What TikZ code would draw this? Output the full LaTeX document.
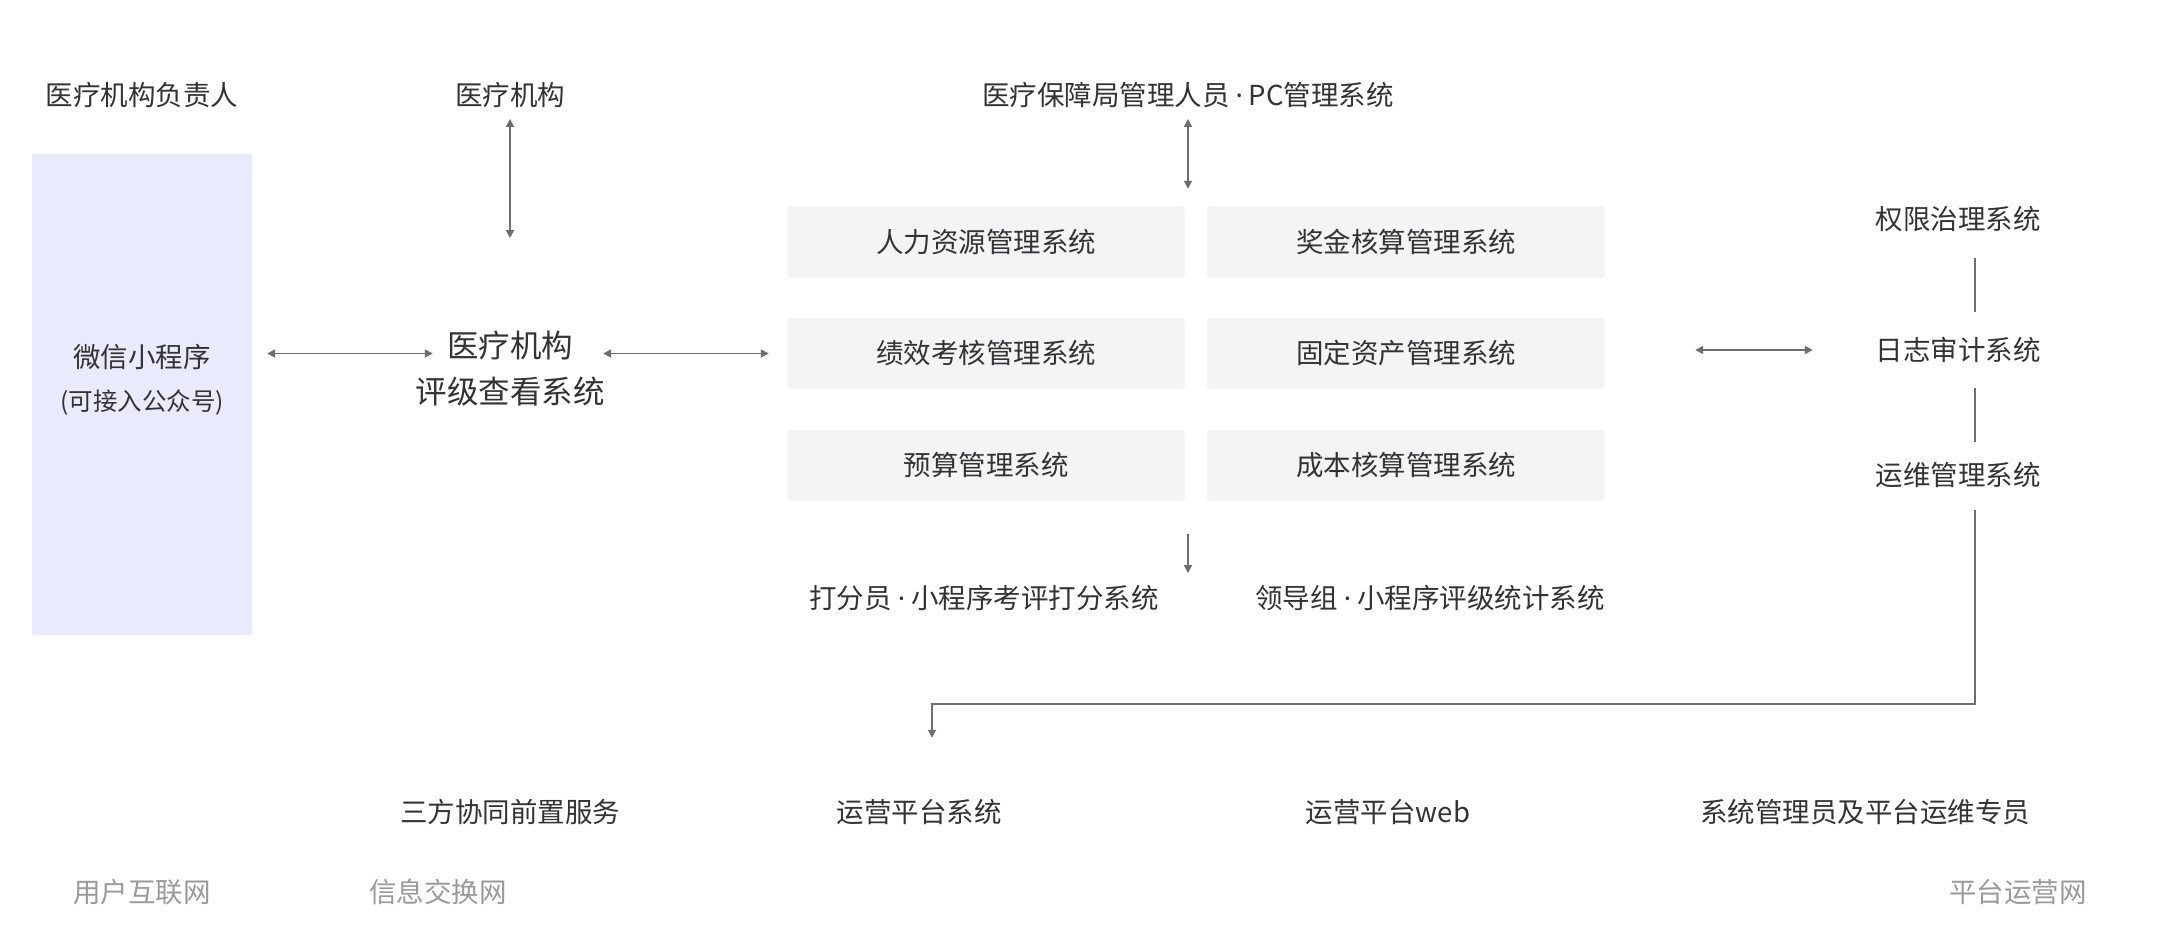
\documentclass[tikz,border=0pt]{standalone}
\usepackage{fontspec}
\setmainfont{Noto Sans CJK SC}
\newfontfamily\latinfont{Noto Sans}
\newcommand\mdot{\hspace{6pt}{\latinfont ·}\hspace{6pt}}
\usetikzlibrary{arrows.meta,calc}
\definecolor{txt}{HTML}{333333}
\definecolor{ln}{HTML}{6E6E6E}
\definecolor{bluebg}{HTML}{E9EBFD}
\definecolor{graybg}{HTML}{F4F4F6}
\definecolor{netc}{HTML}{9A9A9A}
\begin{document}
\begin{tikzpicture}[x=1pt,y=-1pt,
  lbl/.style={inner sep=0pt, text=txt, font=\fontsize{27.5}{33}\selectfont, text height=24.2pt, text depth=3.3pt},
  big/.style={inner sep=0pt, text=txt, font=\fontsize{31.5}{38}\selectfont, text height=27.7pt, text depth=3.8pt},
  small/.style={inner sep=0pt, text=txt, font=\fontsize{24.5}{29}\selectfont, text height=21.5pt, text depth=3pt},
  netlbl/.style={lbl, text=netc},
  sysbox/.style={lbl, fill=graybg, rounded corners=3pt, minimum width=398pt, minimum height=71pt},
  bluebox/.style={fill=bluebg, rounded corners=2pt, inner sep=0pt, minimum width=220pt, minimum height=481pt},
  conn/.style={draw=ln, line width=1.7pt},
  biarr/.style={conn, {Triangle[length=8pt,width=8pt]}-{Triangle[length=8pt,width=8pt]}},
  onearr/.style={conn, -{Triangle[length=8pt,width=8pt]}}
]
\fill[white] (0,0) rectangle (2160,952);
\useasboundingbox (0,0) rectangle (2160,952);

% top labels
\node[lbl] (fzr) at (142,95) {医疗机构负责人};
\node[lbl] (yl) at (510,95) {医疗机构};
\node[lbl] (yb) at (1188,95) {医疗保障局管理人员\mdot PC管理系统};

% mini program box
\node[bluebox] (wx) at (142,394.5) {};
\node[lbl] (wx1) at (142,357) {微信小程序};
\node[small] (wx2) at (142,401) {(可接入公众号)};

% rating system
\node[big] (pj1) at (510,346) {医疗机构};
\node[big] (pj2) at (510,392) {评级查看系统};

% system boxes
\node[sysbox] (b11) at (986,242) {人力资源管理系统};
\node[sysbox] (b12) at (1406,242) {奖金核算管理系统};
\node[sysbox] (b21) at (986,353.5) {绩效考核管理系统};
\node[sysbox] (b22) at (1406,353.5) {固定资产管理系统};
\node[sysbox] (b31) at (986,465.5) {预算管理系统};
\node[sysbox] (b32) at (1406,465.5) {成本核算管理系统};

\node[lbl] (df) at (984,598) {打分员\mdot 小程序考评打分系统};
\node[lbl] (ld) at (1430,598) {领导组\mdot 小程序评级统计系统};

% right column
\node[lbl] (rz1) at (1958,219) {权限治理系统};
\node[lbl] (rz2) at (1958,350) {日志审计系统};
\node[lbl] (rz3) at (1958,475) {运维管理系统};

% bottom row
\node[lbl] (sf) at (510,812) {三方协同前置服务};
\node[lbl] (yy) at (919,812) {运营平台系统};
\node[lbl] (yw) at (1388,812) {运营平台web};
\node[lbl] (gl) at (1865,812) {系统管理员及平台运维专员};

% network labels
\node[netlbl] (n1) at (142,892) {用户互联网};
\node[netlbl] (n2) at (438,892) {信息交换网};
\node[netlbl] (n3) at (2018,892) {平台运营网};

% connectors
\draw[biarr, shorten <=10pt, shorten >=92pt] (yl.south) -- (pj1.north);
\draw[biarr, shorten <=15pt, shorten >=14pt] (wx.east |- b21.west) -- (pj1.west |- b21.west);
\draw[biarr, shorten <=30pt, shorten >=18pt] (pj1.east |- b21.west) -- (b21.west);
\draw[biarr, shorten <=10pt, shorten >=17.5pt] (yb.south) -- (yb.south |- b11.north);
\draw[onearr, shorten <=33pt, shorten >=11pt] (yb.south |- b31.south) -- (yb.south |- df.north);
\draw[biarr, shorten <=90pt, shorten >=62.5pt] (b22.east |- rz2.west) -- (rz2.west);
\draw[conn, shorten <=25.25pt, shorten >=24.25pt] ([xshift=17pt]rz1.south) -- ([xshift=17pt]rz2.north);
\draw[conn, shorten <=24.25pt, shorten >=19.25pt] ([xshift=17pt]rz2.south) -- ([xshift=17pt]rz3.north);
\coordinate (elb) at (1975,704);
\draw[onearr, shorten <=21.25pt, shorten >=60.25pt] ([xshift=17pt]rz3.south) -- (elb) -| ([xshift=13pt]yy.north);
\end{tikzpicture}
\end{document}
